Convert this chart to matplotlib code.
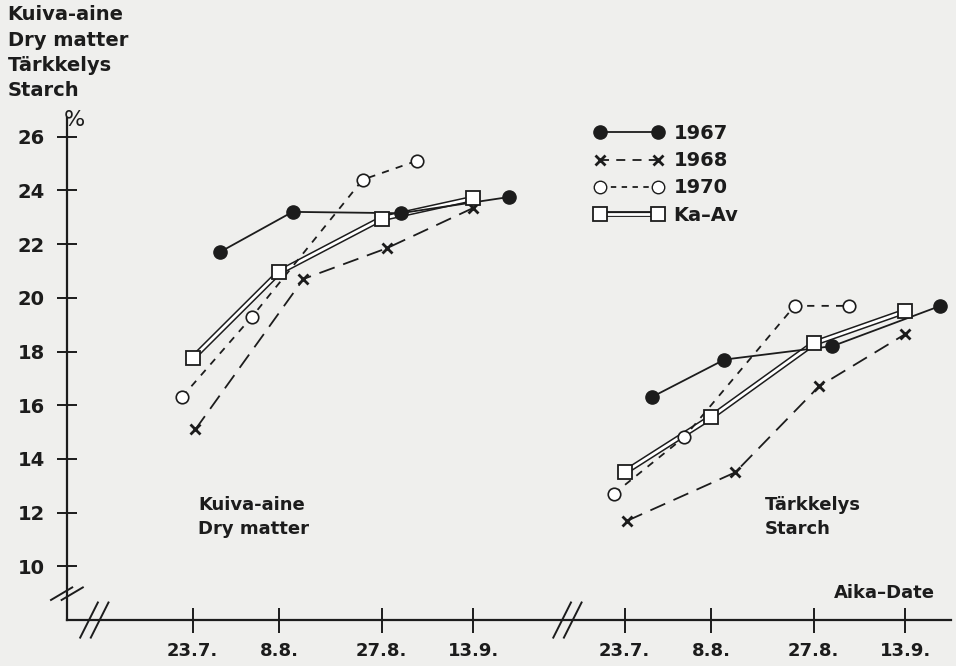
import matplotlib
matplotlib.use("Agg")
import matplotlib.pyplot as plt
from matplotlib.lines import Line2D
from matplotlib.legend_handler import HandlerTuple

# sampling day offsets (days after 23.7.) per year
days_1967 = [5, 18.5, 38.5, 58.5]
days_1968 = [0.5, 20.5, 36, 52]
days_1970 = [-2, 11, 31.5, 41.5]
days_kaav = [0, 16, 35, 52]

# dry matter %, left panel
dm_1967 = [21.7, 23.2, 23.15, 23.75]
dm_1968 = [15.1, 20.7, 21.85, 23.35]
dm_1970 = [16.3, 19.3, 24.4, 25.1]
dm_kaav = [17.75, 20.95, 22.95, 23.7]

# starch %, right panel
st_1967 = [16.3, 17.7, 18.2, 19.7]
st_1968 = [11.7, 13.5, 16.7, 18.65]
st_1970 = [12.7, 14.8, 19.7, 19.7]
st_kaav = [13.5, 15.55, 18.3, 19.5]

date_days = [0, 16, 35, 52]
date_labels = ["23.7.", "8.8.", "27.8.", "13.9."]
panel_shift = 80  # second panel placed 80 days to the right
y_ticks = [10, 12, 14, 16, 18, 20, 22, 24, 26]

ink = "#1c1c1c"
paper = "#efefed"
font = "DejaVu Sans"
plt.rcParams["font.family"] = [font]
plt.rcParams["font.weight"] = "bold"

fig = plt.figure(figsize=(9.56, 6.66), dpi=100, facecolor=paper)
ax = fig.add_axes([0.070, 0.069, 0.925, 0.754])
ax.set_facecolor(paper)


def draw_panel(shift, v67, v68, v70, vka):
    x67 = [d + shift for d in days_1967]
    x68 = [d + shift for d in days_1968]
    x70 = [d + shift for d in days_1970]
    xka = [d + shift for d in days_kaav]
    ax.plot(x67, v67, color=ink, lw=1.3, marker="o", ms=9.5, mfc=ink, mec=ink, zorder=4)
    ax.plot(x68, v68, color=ink, lw=1.3, dashes=(9, 5), marker="x", ms=7, mew=2, mec=ink, zorder=4)
    ax.plot(x70, v70, color=ink, lw=1.3, dashes=(4, 4), marker="o", ms=9, mfc="white", mec=ink, mew=1.2, zorder=4)
    ax.plot(xka, vka, color=ink, lw=4.2, solid_capstyle="butt", zorder=3)
    ax.plot(xka, vka, color="white", lw=2.0, solid_capstyle="butt", zorder=3)
    ax.plot(xka, vka, ls="none", marker="s", ms=10.5, mfc="white", mec=ink, mew=1.3, zorder=5)


draw_panel(0, dm_1967, dm_1968, dm_1970, dm_kaav)
draw_panel(panel_shift, st_1967, st_1968, st_1970, st_kaav)

ax.set_xlim(-23.3, 140.5)
ax.set_ylim(8.0, 26.7)
for s in ["top", "right"]:
    ax.spines[s].set_visible(False)
for s in ["left", "bottom"]:
    ax.spines[s].set_color(ink)
    ax.spines[s].set_linewidth(1.6)

xt = date_days + [d + panel_shift for d in date_days]
ax.set_xticks(xt)
ax.set_xticklabels(date_labels * 2, fontsize=13, fontweight="bold", color=ink)
ax.set_yticks(y_ticks)
ax.set_yticklabels([str(v) for v in y_ticks], fontsize=14, fontweight="bold", color=ink)
ax.tick_params(axis="x", direction="inout", length=18, width=1.4, color=ink, pad=7)
ax.tick_params(axis="y", direction="inout", length=14, width=1.4, color=ink, pad=9)

# axis breaks
brk = dict(transform=ax.transAxes, color=ink, lw=1.4, clip_on=False, zorder=6)
for dx in (-0.006, 0.006):
    ax.plot([-0.012 + dx, 0.012 + dx], [0.04, 0.065], **brk)
    ax.plot([0.021 + dx, 0.041 + dx], [-0.035, 0.035], **brk)
    ax.plot([0.556 + dx, 0.576 + dx], [-0.035, 0.035], **brk)

# texts
fig.text(0.008, 0.992, "Kuiva-aine\nDry matter\nTärkkelys\nStarch", ha="left", va="top",
         fontsize=14, fontweight="bold", color=ink, linespacing=1.42)
ax.text(-23.8, 26.25, "%", fontsize=16, fontweight="normal", color=ink, ha="left", va="bottom")
ax.text(1, 11.85, "Kuiva-aine\nDry matter", fontsize=13, fontweight="bold", color=ink,
        ha="left", va="center", linespacing=1.45)
ax.text(panel_shift + 26, 11.85, "Tärkkelys\nStarch", fontsize=13, fontweight="bold", color=ink,
        ha="left", va="center", linespacing=1.45)
ax.text(137.5, 9.0, "Aika\u2013Date", fontsize=13, fontweight="bold", color=ink,
        ha="right", va="center")

# legend
h67 = Line2D([], [], color=ink, lw=1.3, marker="o", ms=9.5, mfc=ink, mec=ink)
h68 = Line2D([], [], color=ink, lw=1.3, dashes=(5, 4), marker="x", ms=7, mew=2, mec=ink)
h70 = Line2D([], [], color=ink, lw=1.3, dashes=(3, 3), marker="o", ms=9, mfc="white", mec=ink)
hka_a = Line2D([], [], color=ink, lw=4.2)
hka_b = Line2D([], [], color="white", lw=2.0)
hka_c = Line2D([], [], ls="none", marker="s", ms=10.5, mfc="white", mec=ink, mew=1.3)
leg = ax.legend([h67, h68, h70, (hka_a, hka_b, hka_c)], ["1967", "1968", "1970", "Ka\u2013Av"],
                handler_map={tuple: HandlerTuple(ndivide=1, pad=0)},
                numpoints=2, frameon=False, handlelength=3.6, handletextpad=0.5,
                labelspacing=0.42, prop={"family": font, "weight": "bold", "size": 14},
                loc="upper left", bbox_to_anchor=(0.587, 1.003), borderaxespad=0)
for t in leg.get_texts():
    t.set_color(ink)

fig.savefig("out.png", dpi=100, facecolor=paper)
